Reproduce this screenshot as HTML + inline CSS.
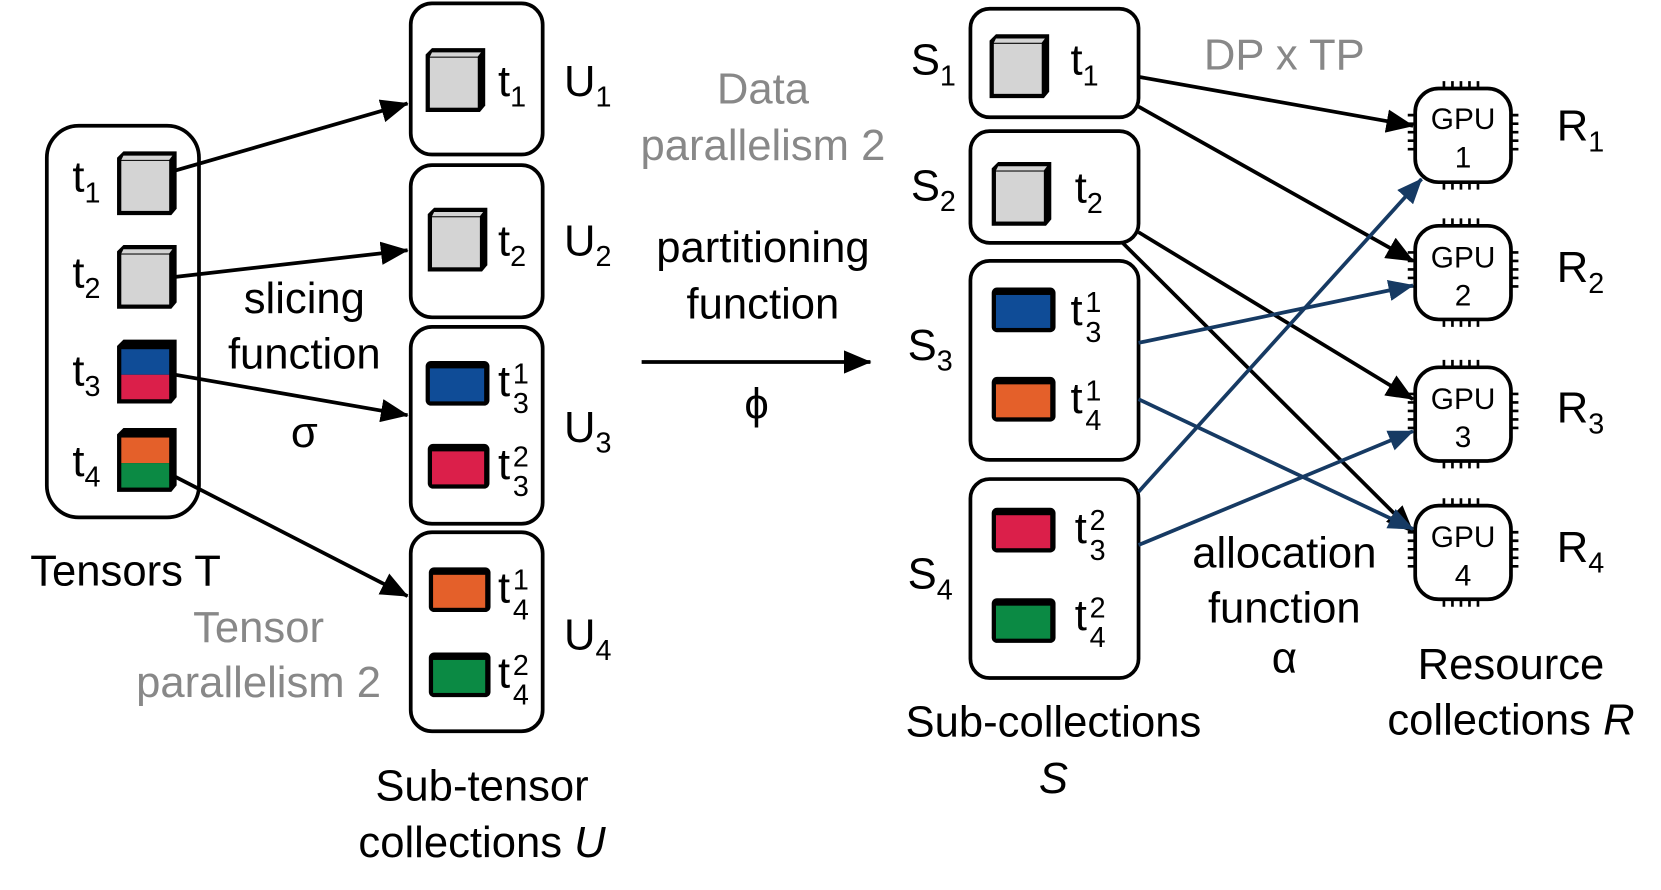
<!DOCTYPE html>
<html><head><meta charset="utf-8"><style>
html,body{margin:0;padding:0;background:#fff;}
svg{display:block;}
text{font-family:"Liberation Sans",sans-serif;font-size:41px;fill:#000;}
.g{fill:#888;}
.sub{font-size:27px;}
</style></head><body>
<svg width="1661" height="890" viewBox="0 0 1561 836" xmlns="http://www.w3.org/2000/svg">
<defs>
<marker id="ak" markerWidth="26" markerHeight="22" refX="25" refY="11" orient="auto" markerUnits="userSpaceOnUse"><path d="M0,0 L26,11 L0,22z" fill="#000"/></marker>
<marker id="au" markerWidth="24" markerHeight="20" refX="23" refY="10" orient="auto" markerUnits="userSpaceOnUse"><path d="M0,0 L24,10 L0,20z" fill="#163a63"/></marker>
<g id="cube"><path d="M6,0 H56 V54 L51,60 H0 V6 Z" fill="#000"/><rect x="4" y="9" width="45" height="47" fill="#d4d4d4"/><path d="M6,4 H52 L49,8 H4Z" fill="#d4d4d4"/></g>
</defs>
<g fill="none" stroke="#000" stroke-width="3.5">
<rect x="44" y="118" width="143" height="368" rx="30"/>
<rect x="386" y="3" width="124" height="142" rx="20"/>
<rect x="386" y="155" width="124" height="143" rx="20"/>
<rect x="386" y="307" width="124" height="185" rx="20"/>
<rect x="386" y="500" width="124" height="187" rx="20"/>
<rect x="912" y="8" width="158" height="102" rx="18"/>
<rect x="912" y="123" width="158" height="105" rx="18"/>
<rect x="912" y="245" width="158" height="187" rx="18"/>
<rect x="912" y="450" width="158" height="187" rx="18"/>
</g>
<use href="#cube" x="110" y="142"/>
<use href="#cube" x="110" y="230"/>
<path d="M116,319 H166 V373 L161,379 H110 V325 Z" fill="#000"/>
<rect x="114" y="328" width="45" height="24" fill="#0f4c97"/><rect x="114" y="352" width="45" height="23" fill="#db1f4a"/>
<path d="M116,402 H166 V456 L161,462 H110 V408 Z" fill="#000"/>
<rect x="114" y="411" width="45" height="24" fill="#e4602a"/><rect x="114" y="435" width="45" height="23" fill="#0b8a44"/>
<use href="#cube" x="400" y="45"/>
<use href="#cube" x="402" y="195"/>
<use href="#cube" x="930" y="32"/>
<use href="#cube" x="932" y="152"/>
<g>
<rect x="400" y="339" width="60" height="42" rx="5" fill="#000"/><rect x="404" y="346" width="51" height="31" fill="#0f4c97"/>
<rect x="402" y="417" width="58" height="42" rx="5" fill="#000"/><rect x="406" y="424" width="49" height="31" fill="#db1f4a"/>
<rect x="403" y="533" width="58" height="42" rx="5" fill="#000"/><rect x="407" y="540" width="49" height="31" fill="#e4602a"/>
<rect x="403" y="613" width="58" height="42" rx="5" fill="#000"/><rect x="407" y="620" width="49" height="31" fill="#0b8a44"/>
<rect x="932" y="270" width="60" height="42" rx="5" fill="#000"/><rect x="936" y="277" width="51" height="31" fill="#0f4c97"/>
<rect x="932" y="354" width="60" height="42" rx="5" fill="#000"/><rect x="936" y="361" width="51" height="31" fill="#e4602a"/>
<rect x="932" y="477" width="60" height="42" rx="5" fill="#000"/><rect x="936" y="484" width="51" height="31" fill="#db1f4a"/>
<rect x="932" y="562" width="60" height="42" rx="5" fill="#000"/><rect x="936" y="569" width="51" height="31" fill="#0b8a44"/>
</g>
<g fill="none" stroke="#000" stroke-width="3.5">
<rect x="1330" y="83" width="90" height="88" rx="22"/>
<rect x="1330" y="212" width="90" height="88" rx="22"/>
<rect x="1330" y="345" width="90" height="88" rx="22"/>
<rect x="1330" y="475" width="90" height="88" rx="22"/>
</g>
<g stroke="#000" stroke-width="2.5">
<path id="pins" d="M1357,76v7M1365,76v7M1373,76v7M1381,76v7M1389,76v7M1357,171v7M1365,171v7M1373,171v7M1381,171v7M1389,171v7M1323,108h7M1323,116h7M1323,124h7M1323,132h7M1323,140h7M1420,108h7M1420,116h7M1420,124h7M1420,132h7M1420,140h7"/>
<use href="#pins" y="129"/><use href="#pins" y="262"/><use href="#pins" y="392"/>
</g>
<g text-anchor="middle">
<text x="1375" y="121" style="font-size:28px">GPU</text><text x="1375" y="157" style="font-size:28px">1</text>
<text x="1375" y="251" style="font-size:28px">GPU</text><text x="1375" y="287" style="font-size:28px">2</text>
<text x="1375" y="384" style="font-size:28px">GPU</text><text x="1375" y="420" style="font-size:28px">3</text>
<text x="1375" y="514" style="font-size:28px">GPU</text><text x="1375" y="550" style="font-size:28px">4</text>
</g>
<g stroke="#000" stroke-width="3.5" fill="none">
<line x1="165" y1="160" x2="383" y2="97" marker-end="url(#ak)"/>
<line x1="165" y1="260" x2="383" y2="235" marker-end="url(#ak)"/>
<line x1="165" y1="352" x2="383" y2="390" marker-end="url(#ak)"/>
<line x1="165" y1="448" x2="383" y2="560" marker-end="url(#ak)"/>
<line x1="603" y1="340" x2="818" y2="340" marker-end="url(#ak)"/>
<line x1="1070" y1="72" x2="1328" y2="118" marker-end="url(#ak)"/>
<line x1="1070" y1="100" x2="1328" y2="245" marker-end="url(#ak)"/>
<line x1="1070" y1="218" x2="1328" y2="375" marker-end="url(#ak)"/>
<line x1="1055" y1="228" x2="1328" y2="500" marker-end="url(#ak)"/>
</g>
<g stroke="#163a63" stroke-width="3.5" fill="none">
<line x1="1070" y1="322" x2="1328" y2="268" marker-end="url(#au)"/>
<line x1="1070" y1="375" x2="1328" y2="497" marker-end="url(#au)"/>
<line x1="1070" y1="462" x2="1336" y2="168" marker-end="url(#au)"/>
<line x1="1070" y1="512" x2="1328" y2="405" marker-end="url(#au)"/>
</g>
<text x="68" y="180">t<tspan class="sub" dy="10">1</tspan></text>
<text x="68" y="270">t<tspan class="sub" dy="10">2</tspan></text>
<text x="68" y="362">t<tspan class="sub" dy="10">3</tspan></text>
<text x="68" y="447">t<tspan class="sub" dy="10">4</tspan></text>
<text x="468" y="90">t<tspan class="sub" dy="10">1</tspan></text>
<text x="468" y="240">t<tspan class="sub" dy="10">2</tspan></text>
<text x="468" y="372">t</text><text x="482" y="360" class="sub">1</text><text x="482" y="388" class="sub">3</text>
<text x="468" y="450">t</text><text x="482" y="438" class="sub">2</text><text x="482" y="466" class="sub">3</text>
<text x="468" y="566">t</text><text x="482" y="554" class="sub">1</text><text x="482" y="582" class="sub">4</text>
<text x="468" y="646">t</text><text x="482" y="634" class="sub">2</text><text x="482" y="662" class="sub">4</text>
<text x="530" y="90">U<tspan class="sub" dy="10">1</tspan></text>
<text x="530" y="240">U<tspan class="sub" dy="10">2</tspan></text>
<text x="530" y="415">U<tspan class="sub" dy="10">3</tspan></text>
<text x="530" y="610">U<tspan class="sub" dy="10">4</tspan></text>
<text x="1006" y="70">t<tspan class="sub" dy="10">1</tspan></text>
<text x="1010" y="190">t<tspan class="sub" dy="10">2</tspan></text>
<text x="1006" y="305">t</text><text x="1020" y="293" class="sub">1</text><text x="1020" y="321" class="sub">3</text>
<text x="1006" y="388">t</text><text x="1020" y="376" class="sub">1</text><text x="1020" y="404" class="sub">4</text>
<text x="1010" y="510">t</text><text x="1024" y="498" class="sub">2</text><text x="1024" y="526" class="sub">3</text>
<text x="1010" y="592">t</text><text x="1024" y="580" class="sub">2</text><text x="1024" y="608" class="sub">4</text>
<text x="856" y="70">S<tspan class="sub" dy="10">1</tspan></text>
<text x="856" y="188">S<tspan class="sub" dy="10">2</tspan></text>
<text x="853" y="338">S<tspan class="sub" dy="10">3</tspan></text>
<text x="853" y="553">S<tspan class="sub" dy="10">4</tspan></text>
<text x="1463" y="132">R<tspan class="sub" dy="10">1</tspan></text>
<text x="1463" y="265">R<tspan class="sub" dy="10">2</tspan></text>
<text x="1463" y="397">R<tspan class="sub" dy="10">3</tspan></text>
<text x="1463" y="528">R<tspan class="sub" dy="10">4</tspan></text>
<g text-anchor="middle">
<text x="286" y="294">slicing</text>
<text x="286" y="346">function</text>
<text x="286" y="420">σ</text>
<text x="118" y="550">Tensors T</text>
<text x="243" y="603" class="g">Tensor</text>
<text x="243" y="655" class="g">parallelism 2</text>
<text x="453" y="752">Sub-tensor</text>
<text x="453" y="805">collections <tspan font-style="italic">U</tspan></text>
<text x="717" y="97" class="g">Data</text>
<text x="717" y="150" class="g">parallelism 2</text>
<text x="717" y="246">partitioning</text>
<text x="717" y="299">function</text>
<text x="711" y="393">ϕ</text>
<text x="1207" y="65" class="g">DP x TP</text>
<text x="1207" y="533">allocation</text>
<text x="1207" y="585">function</text>
<text x="1207" y="632">α</text>
<text x="1420" y="638">Resource</text>
<text x="1420" y="690">collections <tspan font-style="italic">R</tspan></text>
<text x="990" y="692">Sub-collections</text>
<text x="990" y="745" font-style="italic">S</text>
</g>
</svg>
</body></html>
